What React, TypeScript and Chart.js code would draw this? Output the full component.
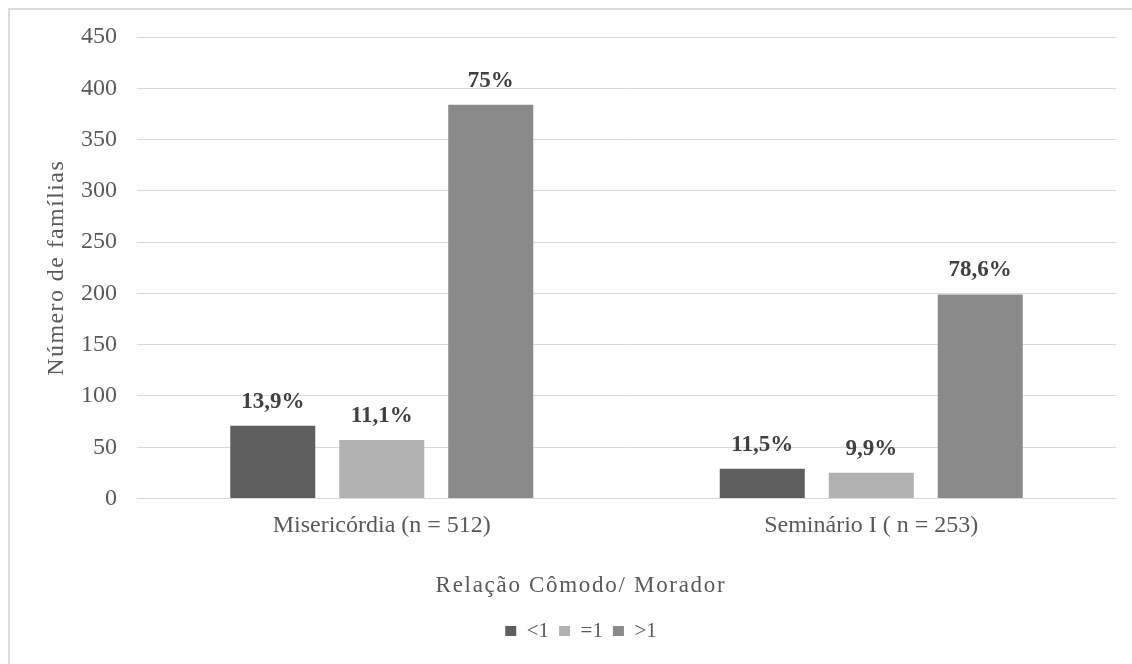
import React, { useEffect, useRef } from "react";
import { Chart, registerables } from "chart.js";

Chart.register(...registerables);

const categories = ["Misericórdia (n = 512)", "Seminário I ( n = 253)"];
const seriesNames = ["<1", "=1", ">1"];
const lessThanOne = [71, 29];
const equalOne = [57, 25];
const greaterThanOne = [384, 199];
const lessThanOneLabels = ["13,9%", "11,5%"];
const equalOneLabels = ["11,1%", "9,9%"];
const greaterThanOneLabels = ["75%", "78,6%"];
const yTicks = [0, 50, 100, 150, 200, 250, 300, 350, 400, 450];
const xTitle = "Relação Cômodo/ Morador";
const yTitle = "Número de famílias";

const FONT = "'Liberation Serif', 'Times New Roman', serif";
const TEXT = "#595959";

// Percentage labels painted above every bar
const barLabels = {
  id: "barLabels",
  afterDatasetsDraw(chart: any) {
    const { ctx } = chart;
    ctx.save();
    ctx.font = `bold 23px ${FONT}`;
    ctx.fillStyle = "#404040";
    ctx.textAlign = "center";
    ctx.textBaseline = "alphabetic";
    chart.data.datasets.forEach((ds: any, di: number) => {
      const meta = chart.getDatasetMeta(di);
      meta.data.forEach((bar: any, i: number) => {
        ctx.fillText(ds.pctLabels[i], bar.x, bar.y - 18);
      });
    });
    ctx.restore();
  },
};

// Axis titles with a little extra tracking, like the office-style chart text
const axisTitles = {
  id: "axisTitles",
  afterDraw(chart: any) {
    const { ctx, chartArea, legend } = chart;
    ctx.save();
    ctx.fillStyle = TEXT;
    ctx.textAlign = "center";
    ctx.textBaseline = "middle";

    ctx.font = `23px ${FONT}`;
    (ctx as any).letterSpacing = "1.7px";
    const cx = (legend.left + legend.right) / 2;
    ctx.fillText(xTitle, cx, chartArea.bottom + 87.5);

    ctx.font = `24px ${FONT}`;
    (ctx as any).letterSpacing = "1.4px";
    ctx.translate(48, (chartArea.top + chartArea.bottom) / 2);
    ctx.rotate(-Math.PI / 2);
    ctx.fillText(yTitle, 0, 0);
    ctx.restore();
  },
};

export default function App() {
  const canvasRef = useRef<HTMLCanvasElement | null>(null);

  useEffect(() => {
    const canvas = canvasRef.current;
    if (!canvas) return;
    const chart = new Chart(canvas, {
      type: "bar",
      data: {
        labels: categories,
        datasets: [
          {
            label: seriesNames[0],
            data: lessThanOne,
            backgroundColor: "#5f5f5f",
            pctLabels: lessThanOneLabels,
          } as any,
          {
            label: seriesNames[1],
            data: equalOne,
            backgroundColor: "#b2b2b2",
            pctLabels: equalOneLabels,
          } as any,
          {
            label: seriesNames[2],
            data: greaterThanOne,
            backgroundColor: "#8a8a8a",
            pctLabels: greaterThanOneLabels,
          } as any,
        ],
      },
      options: {
        responsive: false,
        animation: false,
        devicePixelRatio: 1,
        categoryPercentage: 0.668,
        barPercentage: 0.78,
        layout: { padding: { left: 37, top: 28, right: 16, bottom: 12.5 } },
        scales: {
          x: {
            grid: { display: false, drawTicks: false },
            border: { display: false },
            ticks: {
              color: TEXT,
              font: { family: FONT, size: 24 },
              padding: 12.5,
              maxRotation: 0,
            },
            afterFit(scale: any) {
              scale.height = 112;
            },
          },
          y: {
            min: 0,
            max: 450,
            afterBuildTicks(scale: any) {
              scale.ticks = yTicks.map((v) => ({ value: v }));
            },
            grid: { color: "#d9d9d9", lineWidth: 1, drawTicks: false },
            border: { display: false },
            ticks: {
              color: TEXT,
              font: { family: FONT, size: 24 },
              padding: 20,
            },
            afterFit(scale: any) {
              scale.width = 91;
              scale.paddingTop = 0;
              scale.paddingBottom = 0;
            },
          },
        },
        plugins: {
          legend: {
            position: "bottom",
            labels: {
              color: TEXT,
              font: { family: FONT, size: 21 },
              boxWidth: 11,
              boxHeight: 10,
              padding: 10,
            },
          },
          tooltip: { enabled: false },
        },
      } as any,
      plugins: [barLabels, axisTitles],
    });
    return () => chart.destroy();
  }, []);

  return (
    <div style={{ position: "fixed", inset: 0, overflow: "hidden", background: "#ffffff" }}>
      <div
        style={{
          position: "absolute",
          left: 8,
          top: 8,
          width: 1300,
          height: 800,
          borderTop: "2px solid #dcdcdc",
          borderLeft: "2px solid #dcdcdc",
        }}
      />
      <canvas
        ref={canvasRef}
        width={1123}
        height={655}
        style={{ position: "absolute", left: 9, top: 9, width: 1123, height: 655 }}
      />
    </div>
  );
}
